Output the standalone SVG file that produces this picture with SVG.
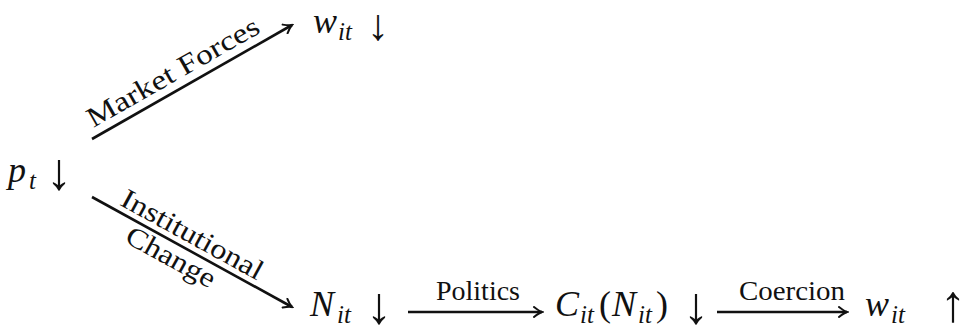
<svg xmlns="http://www.w3.org/2000/svg" width="966" height="335" viewBox="0 0 966 335">
<style>
.m{font-family:"Liberation Serif","Times New Roman",serif;font-style:italic;font-size:36px;fill:#111}
.s{font-family:"Liberation Serif","Times New Roman",serif;font-style:italic;font-size:25px;fill:#111}
.u{font-family:"Liberation Serif","Times New Roman",serif;font-size:36px;fill:#111}
.a{font-family:"Liberation Serif","Times New Roman",serif;font-size:52px;fill:#111}
.l{font-family:"Liberation Serif","Times New Roman",serif;font-size:28px;fill:#111}
.c{stroke:#111;stroke-width:2.6;fill:none}
</style>
<defs>
<marker id="ah" viewBox="-10 -6 12 12" refX="0" refY="0" markerWidth="12" markerHeight="12" markerUnits="userSpaceOnUse" orient="auto">
<path d="M-8,-5 Q-3,-1 0,0 Q-3,1 -8,5" fill="none" stroke="#111" stroke-width="2" stroke-linecap="round"/>
</marker>
</defs>
<rect width="966" height="335" fill="#fff"/>
<g id="connectors">
<line class="c" x1="92" y1="139" x2="292" y2="25" marker-end="url(#ah)"/>
<line class="c" x1="92" y1="197" x2="292" y2="307" marker-end="url(#ah)"/>
<line class="c" x1="408" y1="312" x2="542" y2="312" marker-end="url(#ah)"/>
<line class="c" x1="717" y1="312" x2="847" y2="312" marker-end="url(#ah)"/>
<text class="l" transform="translate(177.5,80) rotate(-29.7)" x="0" y="0" text-anchor="middle" textLength="194" lengthAdjust="spacingAndGlyphs">Market Forces</text>
<text class="l" transform="translate(188,242.5) rotate(28.8)" x="0" y="0" text-anchor="middle" textLength="158" lengthAdjust="spacingAndGlyphs">Institutional</text>
<text class="l" transform="translate(166.5,265) rotate(28.8)" x="0" y="0" text-anchor="middle" textLength="98" lengthAdjust="spacingAndGlyphs">Change</text>
<text class="l" x="478" y="300" text-anchor="middle" textLength="84" lengthAdjust="spacingAndGlyphs">Politics</text>
<text class="l" x="792" y="300" text-anchor="middle" textLength="106" lengthAdjust="spacingAndGlyphs">Coercion</text>
</g>
<g id="p">
<text class="m" x="8" y="182">p</text><text class="s" x="29" y="189">t</text><text class="a" x="46" y="189">↓</text>
</g>
<g id="w_down">
<text class="m" x="313" y="33">w</text><text class="s" x="338" y="40">it</text><text class="a" x="367" y="40" style="font-size:44px">↓</text>
</g>
<g id="N">
<text class="m" x="310" y="316">N</text><text class="s" x="337" y="323">it</text><text class="a" x="366" y="323">↓</text>
</g>
<g id="C">
<text class="m" x="555" y="316">C</text><text class="s" x="580" y="323">it</text><text class="u" x="599" y="316">(</text><text class="m" x="612" y="316">N</text><text class="s" x="638" y="323">it</text><text class="u" x="656" y="316">)</text><text class="a" x="683" y="323">↓</text>
</g>
<g id="w_up">
<text class="m" x="865" y="316">w</text><text class="s" x="891" y="323">it</text><text class="a" x="940" y="321">↑</text>
</g>
</svg>
